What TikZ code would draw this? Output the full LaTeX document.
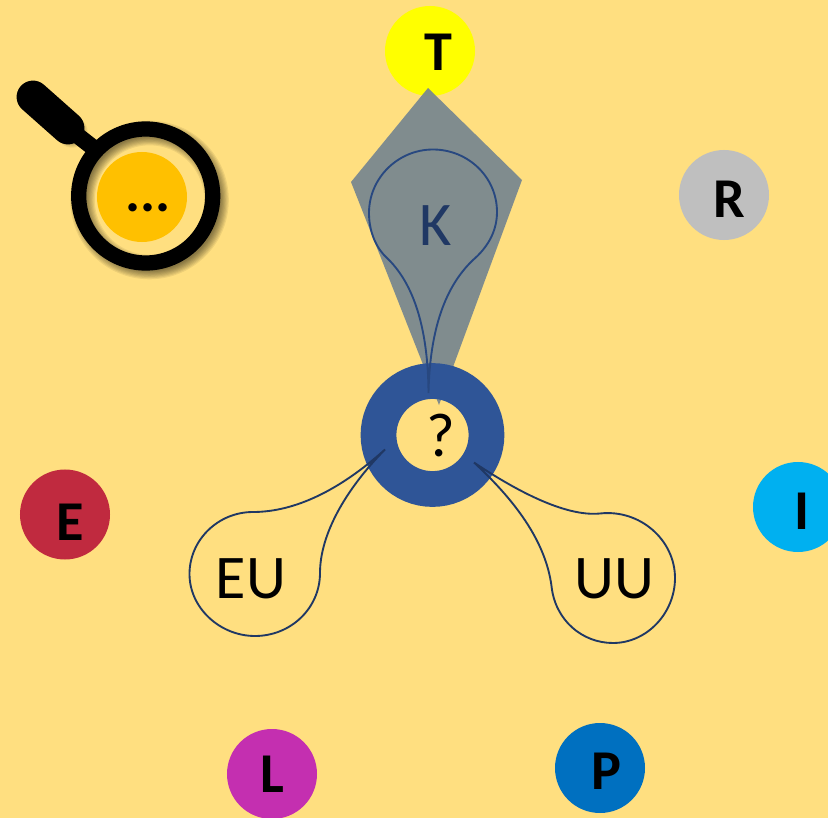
\documentclass[tikz,border=0pt]{standalone}
\usepackage{fontspec}
\setmainfont{Carlito}
\definecolor{bgyellow}{HTML}{FFDF80}
\definecolor{ringblue}{HTML}{2F5597}
\definecolor{dropblue}{HTML}{203864}
\definecolor{sunyellow}{HTML}{FFFF00}
\tikzstyle{dot} = [
  circle,
  minimum size=2.7cm,
  inner sep=0pt
]
\tikzstyle{letter} = [
  inner sep=0pt,
  font=\fontsize{48}{48}\selectfont\bfseries
]
\tikzstyle{word} = [
  inner sep=0pt,
  font=\fontsize{53}{53}\selectfont
]
\tikzstyle{drop} = [line width=1.6pt,draw=dropblue]
\begin{document}
\begin{tikzpicture}[x=0.03cm,y=-0.03cm]
    \useasboundingbox (0,0) rectangle (828,818);
    \fill [bgyellow] (0,0) rectangle (828,818);

    % Puntos de color alrededor
    \node (T) [dot, fill=sunyellow] at (430,51) {};
    \node (R) [dot, fill=black!25] at (724,195) {};
    \node (E) [dot, fill={rgb,255:red,192;green,42;blue,63}] at (65,514.5) {};
    \node (I) [dot, fill={rgb,255:red,0;green,176;blue,240}] at (798,507) {};
    \node (L) [dot, fill={rgb,255:red,196;green,47;blue,176}] at (272,774) {};
    \node (P) [dot, fill={rgb,255:red,0;green,112;blue,192}] at (600,768) {};

    % Lupa con sombra
    \foreach \w in {1,...,8} {
        \draw [black, opacity=0.06, line width=14pt+\w*1.6pt, line cap=round] (38,102) -- (72,132);
        \draw [black, opacity=0.07, line width=5pt+\w*2pt] (149.5,200) circle (67);
    }
    \node (dots) [dot, fill={rgb,255:red,255;green,192;blue,0}] at (142,197) {};
    \draw [line width=28pt, line cap=round] (33,97) -- (68,128);
    \draw [line width=14pt] (68,128) -- (100,153);
    \node (lens) [circle, draw=black, line width=13pt, minimum size=4.02cm, inner sep=0pt] at (145.7,196) {};

    % Cometa gris
    \fill [fill={rgb,255:red,122;green,136;blue,143}, fill opacity=0.95]
        (428,88) -- (522,180) -- (439,405) -- (351,182) -- cycle;
    \node (ring) [circle, draw=ringblue, line width=30.5pt, minimum size=3.24cm, inner sep=0pt] at (432.5,435) {};

    % Gotas
    \coordinate (ktip) at (428.5,393);
    \coordinate (eutip) at (385,449.5);
    \coordinate (uutip) at (474,462.5);
    \draw [drop, draw=ringblue!85!black] (ktip) .. controls (428,320) and (410,280) .. (387,258)
        .. controls (375,247) and (369,230) .. (369,213)
        .. controls (369,178) and (398,149.5) .. (433,149.5)
        .. controls (468,149.5) and (497,177) .. (497,212)
        .. controls (497,232) and (487,248) .. (473,260)
        .. controls (450,282) and (430,320) .. (ktip);
    \draw [drop] (eutip) .. controls (340,490) and (295,512) .. (253,512)
        .. controls (218,512) and (189.5,540) .. (189.5,574)
        .. controls (189.5,608) and (220,636) .. (255,636)
        .. controls (291,636) and (320,608) .. (320,573)
        .. controls (320,535) and (345,490) .. (eutip);
    \draw [drop] (uutip) .. controls (515,490) and (565,517) .. (600,513.5)
        .. controls (640,509) and (675,540) .. (675,578)
        .. controls (675,613) and (647,643) .. (613,643)
        .. controls (582,643) and (555,620) .. (551.5,586)
        .. controls (546,545) and (520,505) .. (uutip);

    % Textos
    \node (Tt) [letter] at (438,52) {T};
    \node (Rt) [letter] at (729,199) {R};
    \node (Et) [letter] at (70.5,522) {E};
    \node (It) [letter] at (802,511) {I};
    \node (Lt) [letter] at (272,774) {L};
    \node (Pt) [letter] at (606,771) {P};
    \node (dotst) [letter] at (148,208) {...};
    \node (Kt) [word, text=dropblue] at (436,226) {K};
    \node (EUt) [word] at (251,579) {EU};
    \node (UUt) [word] at (614,579) {UU};
    \node (qt) [word] at (441,436) {?};
\end{tikzpicture}
\end{document}
